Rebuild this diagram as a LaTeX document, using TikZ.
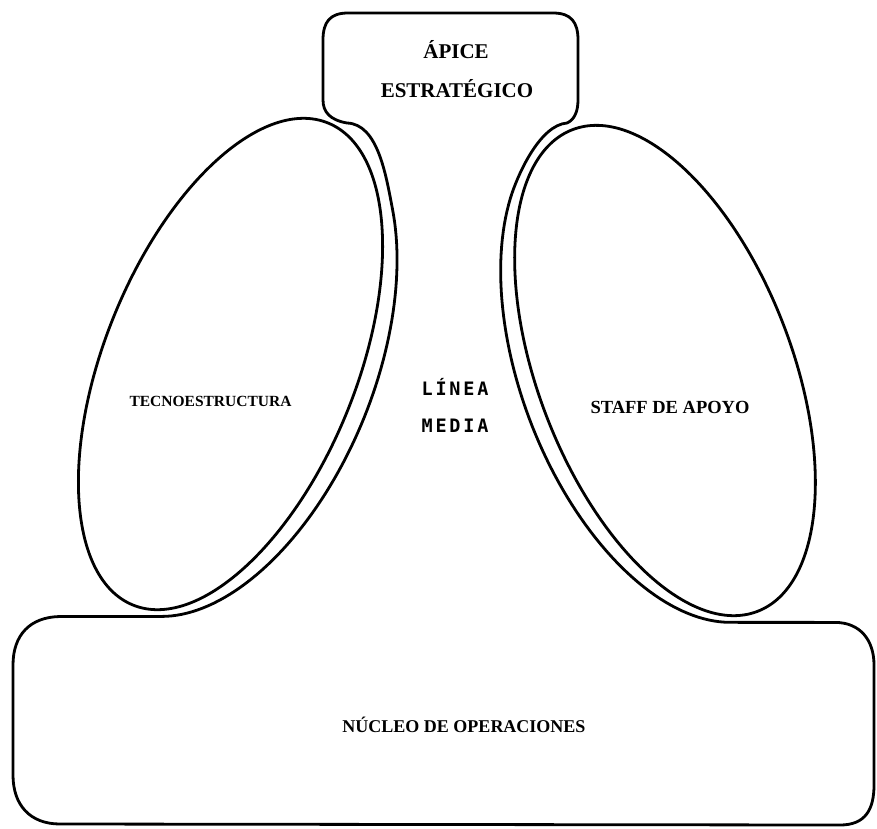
\documentclass[tikz,border=0pt]{standalone}
\usepackage{fontspec}
\setmainfont{Liberation Serif}
\newfontfamily\monofnt[LetterSpace=15]{DejaVu Sans Mono}
\usetikzlibrary{shapes.geometric}
\begin{document}
\begin{tikzpicture}[x=1pt,y=-1pt,
  outline/.style={line width=2.8pt, line join=round, line cap=round},
  part/.style={ellipse, draw, outline, inner sep=0pt},
  lbl/.style={inner sep=0pt, anchor=base},
  mono/.style={inner sep=0pt, anchor=base, font=\monofnt\bfseries\fontsize{18.5pt}{20pt}\selectfont}]
\useasboundingbox (0,0) rectangle (877,828);

% inner ellipses
\node[part, minimum width=252pt, minimum height=520pt, rotate=-22] (tecno) at (230.5,364) {};
\node[part, minimum width=254pt, minimum height=516pt, rotate=21] (staff) at (665,370.5) {};

% apex + middle line channels + operating core: one closed outline
\draw[outline]
  (323,40) .. controls (323,22) and (330,13) .. (348,13)
  -- (553,13) .. controls (571,13) and (578,22) .. (578,40)
  -- (578,100) .. controls (578,112) and (574,120) .. (567,123)
  .. controls (540,125) and (517.7,174.2) .. (510.4,198.2)
  -- plot[domain=125:258.2, samples=70, variable=\t]
     ({665+134.4*cos(\t)-94.6*sin(\t)},{370.5-51.6*cos(\t)-246.5*sin(\t)})
  -- (835,622.4) .. controls (860,622.4) and (874,640) .. (874,665)
  -- (874,785) .. controls (874,810) and (865,825) .. (840,825)
  -- (60,824) .. controls (30,824) and (13,805) .. (13,775)
  -- (13,665) .. controls (13,635) and (30,617) .. (60,616.5)
  -- (161.7,616.4)
  -- plot[domain=-77.67:50, samples=70, variable=\t]
     ({230.5+133.5*cos(\t)+99.6*sin(\t)},{364+53.9*cos(\t)-246.6*sin(\t)})
  .. controls (386,175.3) and (378,124) .. (347,123)
  .. controls (330,120) and (323,112) .. (323,100)
  -- cycle;

% labels
\node[lbl, font=\bfseries\fontsize{21pt}{24pt}\selectfont] (apice1) at (456,58) {ÁPICE};
\node[lbl, font=\bfseries\fontsize{21pt}{24pt}\selectfont] (apice2) at (457,97) {ESTRATÉGICO};
\node[lbl, font=\bfseries\fontsize{15.5pt}{18pt}\selectfont] (tecnolbl) at (210.5,406) {TECNOESTRUCTURA};
\node[lbl, font=\bfseries\fontsize{18.5pt}{21pt}\selectfont] (stafflbl) at (670,413) {STAFF DE APOYO};
\node[lbl, font=\bfseries\fontsize{18pt}{21pt}\selectfont] (nucleo) at (464,732) {NÚCLEO DE OPERACIONES};
\node[mono] (linea) at (455,395) {LÍNEA};
\node[mono] (media) at (455,432) {MEDIA};
\end{tikzpicture}
\end{document}
